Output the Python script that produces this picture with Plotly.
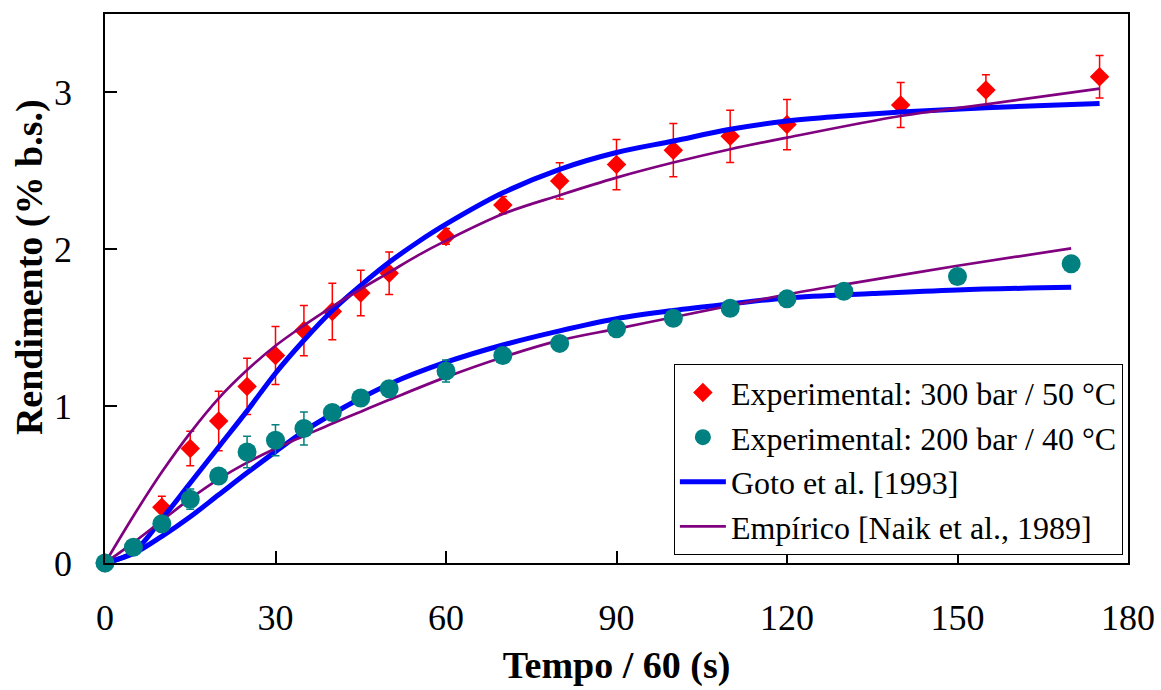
import plotly.graph_objects as go

# Experimental yield, 300 bar / 50 °C
t_300 = [0, 10, 15, 20, 25, 30, 35, 40, 45, 50, 60, 70, 80, 90, 100, 110, 120, 140, 155, 175]
y_300 = [0, 0.356, 0.73, 0.905, 1.126, 1.323, 1.482, 1.603, 1.722, 1.847, 2.082, 2.282,
         2.436, 2.54, 2.632, 2.72, 2.795, 2.92, 3.015, 3.10]
err_300 = [0, 0.07, 0.11, 0.19, 0.18, 0.185, 0.16, 0.18, 0.145, 0.135, 0.05, 0.055,
           0.115, 0.16, 0.17, 0.167, 0.16, 0.143, 0.097, 0.135]

# Experimental yield, 200 bar / 40 °C
t_200 = [0, 5, 10, 15, 20, 25, 30, 35, 40, 45, 50, 60, 70, 80, 90, 100, 110, 120, 130, 150, 170]
y_200 = [0, 0.10, 0.25, 0.407, 0.555, 0.708, 0.782, 0.857, 0.959, 1.052, 1.111, 1.224,
         1.323, 1.40, 1.493, 1.56, 1.624, 1.684, 1.732, 1.826, 1.908]
err_200 = [0, 0.02, 0.03, 0.064, 0.03, 0.10, 0.099, 0.105, 0.05, 0.05, 0.04, 0.07,
           0, 0, 0, 0, 0, 0, 0, 0, 0]

# Goto et al. [1993] model curves
tg_300 = [0, 5, 10, 15, 20, 25, 30, 35, 40, 45, 50, 55, 60, 70, 80, 90, 100, 110, 120, 130, 140, 155, 175]
yg_300 = [0, 0.07, 0.28, 0.51, 0.74, 0.97, 1.21, 1.42, 1.61, 1.77, 1.917, 2.045, 2.16, 2.36,
          2.51, 2.617, 2.69, 2.765, 2.818, 2.85, 2.875, 2.903, 2.93]
tg_200 = [0, 5, 10, 15, 20, 25, 30, 35, 40, 45, 50, 60, 70, 80, 90, 100, 110, 120, 135, 150, 170]
yg_200 = [0, 0.06, 0.17, 0.295, 0.435, 0.575, 0.71, 0.84, 0.95, 1.05, 1.14, 1.28, 1.39, 1.48,
          1.557, 1.61, 1.652, 1.69, 1.718, 1.741, 1.758]

# Empirical model [Naik et al., 1989] curves
tn_300 = [0, 5, 10, 15, 20, 25, 30, 35, 40, 45, 50, 55, 60, 70, 80, 90, 100, 110, 120, 140, 155, 175]
yn_300 = [0, 0.30, 0.58, 0.83, 1.05, 1.23, 1.385, 1.515, 1.635, 1.747, 1.853, 1.96, 2.055, 2.225,
          2.345, 2.457, 2.553, 2.638, 2.712, 2.85, 2.924, 3.024]
tn_200 = [0, 5, 10, 15, 20, 25, 30, 35, 40, 45, 50, 60, 70, 80, 90, 100, 110, 120, 130, 140, 150, 170]
yn_200 = [0, 0.13, 0.27, 0.41, 0.535, 0.64, 0.73, 0.81, 0.89, 0.965, 1.04, 1.185, 1.312, 1.419,
          1.493, 1.567, 1.641, 1.712, 1.775, 1.835, 1.895, 2.006]

x_ticks = [0, 30, 60, 90, 120, 150, 180]
y_ticks = [0, 1, 2, 3]

RED = "#FF0000"
TEAL = "#008080"
BLUE = "#0000FF"
PURPLE = "#800080"
FONT = "Liberation Serif"

fig = go.Figure()

fig.add_trace(go.Scatter(
    x=t_300, y=y_300, mode="markers", name="Experimental: 300 bar / 50 °C",
    marker=dict(symbol="diamond", size=15, color=RED),
    error_y=dict(type="data", array=err_300, color=RED, thickness=1.5, width=4),
    cliponaxis=False,
))

fig.add_trace(go.Scatter(
    x=tg_300, y=yg_300, mode="lines", name="Goto et al. [1993]", legendgroup="goto",
    line=dict(color=BLUE, width=5, shape="spline", smoothing=1), showlegend=False,
))
fig.add_trace(go.Scatter(
    x=tg_200, y=yg_200, mode="lines", name="Goto et al. [1993]", legendgroup="goto",
    line=dict(color=BLUE, width=5, shape="spline", smoothing=1), showlegend=False,
))
fig.add_trace(go.Scatter(
    x=tn_300, y=yn_300, mode="lines", name="Empírico [Naik et al., 1989]", legendgroup="naik",
    line=dict(color=PURPLE, width=2.7, shape="spline", smoothing=1), showlegend=False,
))
fig.add_trace(go.Scatter(
    x=tn_200, y=yn_200, mode="lines", name="Empírico [Naik et al., 1989]", legendgroup="naik",
    line=dict(color=PURPLE, width=2.7, shape="spline", smoothing=1), showlegend=False,
))

fig.add_trace(go.Scatter(
    x=t_200, y=y_200, mode="markers", name="Experimental: 200 bar / 40 °C",
    marker=dict(symbol="circle", size=19, color=TEAL),
    error_y=dict(type="data", array=err_200, color=TEAL, thickness=1.5, width=4),
    cliponaxis=False,
))

# legend-only entries for the model curves, listed after the experimental series
fig.add_trace(go.Scatter(
    x=[None], y=[None], mode="lines", name="Goto et al. [1993]", legendgroup="goto",
    line=dict(color=BLUE, width=5),
))
fig.add_trace(go.Scatter(
    x=[None], y=[None], mode="lines", name="Empírico [Naik et al., 1989]", legendgroup="naik",
    line=dict(color=PURPLE, width=2.7),
))

axis_common = dict(
    showline=True, linecolor="black", linewidth=1.5, mirror=True,
    ticks="inside", ticklen=12, tickwidth=1.5, tickcolor="black",
    showgrid=False, zeroline=False, automargin=False,
    tickfont=dict(family=FONT, size=36, color="black"),
)

fig.update_layout(
    width=1161, height=690,
    margin=dict(l=105, r=33, t=14, b=127),
    paper_bgcolor="white", plot_bgcolor="white",
    font=dict(family=FONT, color="black"),
    xaxis=dict(
        range=[0, 180], tickvals=x_ticks, ticktext=[str(v) for v in x_ticks],
        ticklabelstandoff=22,
        title=dict(text="<b>Tempo / 60 (s)</b>", font=dict(family=FONT, size=38), standoff=14),
        **axis_common,
    ),
    yaxis=dict(
        range=[0, 3.5], tickvals=y_ticks, ticktext=[str(v) for v in y_ticks],
        ticklabelstandoff=24,
        **axis_common,
    ),
    annotations=[dict(
        text="<b>Rendimento (% b.s.)</b>", textangle=-90,
        xref="paper", yref="paper", x=-0.0743, y=0.539,
        xanchor="center", yanchor="middle", showarrow=False,
        font=dict(family=FONT, size=38, color="black"),
    )],
    legend=dict(
        x=0.995, y=0.362, xanchor="right", yanchor="top",
        bgcolor="white", bordercolor="black", borderwidth=1,
        font=dict(family=FONT, size=32, color="black"),
        tracegroupgap=0, itemsizing="trace", itemwidth=46,
    ),
    showlegend=True,
)

fig.write_html("out.html")
